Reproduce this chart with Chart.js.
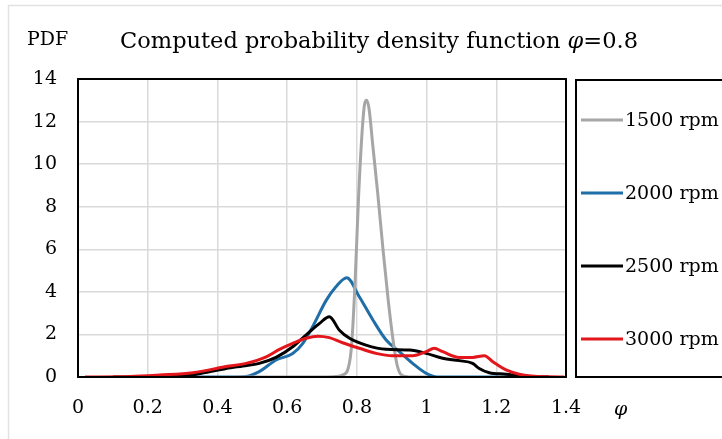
<!DOCTYPE html>
<html>
<head>
<meta charset="utf-8">
<script src="https://cdn.jsdelivr.net/npm/chart.js@4.4.0/dist/chart.umd.min.js"></script>
<style>
  html, body { margin: 0; padding: 0; background: #fff; }
  #wrap { width: 722px; height: 439px; }
</style>
</head>
<body>
<div id="wrap"><canvas id="pdfChart" width="722" height="439"></canvas></div>
<script>
// series names
const seriesNames = ["1500 rpm", "2000 rpm", "2500 rpm", "3000 rpm"];
const seriesColors = ["#a6a6a6", "#1f6ea8", "#000000", "#e3161b"];

// phi values (x) and PDF values (y)
const phi1500 = [0.45, 0.6, 0.7, 0.74, 0.76, 0.775, 0.785, 0.795, 0.805, 0.815, 0.822, 0.828, 0.835, 0.845, 0.86, 0.875, 0.89, 0.905, 0.915, 0.925, 0.94, 0.96, 1.0];
const pdf1500 = [0, 0, 0, 0.02, 0.1, 0.4, 1.5, 4.5, 8.5, 11.5, 12.8, 13.0, 12.6, 11.0, 8.6, 6.0, 3.6, 1.6, 0.6, 0.15, 0.03, 0, 0];

const phi2000 = [0.3, 0.45, 0.482, 0.52, 0.568, 0.616, 0.645, 0.673, 0.712, 0.74, 0.771, 0.807, 0.846, 0.884, 0.922, 0.96, 0.999, 1.03, 1.1, 1.3, 1.35];
const pdf2000 = [0, 0, 0.02, 0.25, 0.8, 1.1, 1.58, 2.36, 3.6, 4.24, 4.66, 3.77, 2.68, 1.74, 1.19, 0.64, 0.17, 0, 0, 0, 0];

const phi2500 = [0.1, 0.2, 0.28, 0.33, 0.377, 0.425, 0.473, 0.52, 0.568, 0.616, 0.654, 0.693, 0.721, 0.75, 0.779, 0.826, 0.884, 0.951, 0.999, 1.046, 1.094, 1.132, 1.151, 1.18, 1.228, 1.266, 1.3, 1.35];
const pdf2500 = [0, 0, 0.03, 0.1, 0.25, 0.4, 0.52, 0.64, 0.92, 1.42, 1.97, 2.52, 2.83, 2.2, 1.82, 1.5, 1.3, 1.27, 1.11, 0.88, 0.77, 0.64, 0.4, 0.2, 0.13, 0.05, 0, 0];

const phi3000 = [0.02, 0.15, 0.234, 0.33, 0.425, 0.482, 0.54, 0.578, 0.616, 0.654, 0.688, 0.721, 0.759, 0.807, 0.855, 0.903, 0.96, 0.999, 1.022, 1.046, 1.094, 1.132, 1.166, 1.19, 1.228, 1.266, 1.3, 1.35, 1.395];
const pdf3000 = [0, 0.02, 0.09, 0.2, 0.49, 0.64, 0.95, 1.3, 1.58, 1.82, 1.92, 1.85, 1.61, 1.35, 1.11, 1.0, 1.0, 1.19, 1.35, 1.19, 0.92, 0.92, 1.0, 0.72, 0.33, 0.13, 0.05, 0.01, 0];

const xTicks = [0, 0.2, 0.4, 0.6, 0.8, 1, 1.2, 1.4];

const serif = "'DejaVu Serif', 'Liberation Serif', serif";

function toPoints(xs, ys) {
    return xs.map((x, i) => ({ x: x, y: ys[i] }));
}

const allX = [phi1500, phi2000, phi2500, phi3000];
const allY = [pdf1500, pdf2000, pdf2500, pdf3000];
const drawOrder = [3, 4, 2, 1]; // red on top

// Title, axis labels, frame and legend box drawn on the canvas
const decorations = {
    id: "decorations",
    afterDraw(chart) {
        const ctx = chart.ctx;
        const a = chart.chartArea;
        ctx.save();

        // faint outer frame
        ctx.strokeStyle = "#e2e2e2";
        ctx.lineWidth = 1.5;
        ctx.strokeRect(8.5, 5.5, 760, 480);

        // plot frame
        ctx.strokeStyle = "#000";
        ctx.lineWidth = 2;
        ctx.strokeRect(a.left, a.top, a.right - a.left, a.bottom - a.top);

        // title
        ctx.fillStyle = "#000";
        ctx.textBaseline = "middle";
        ctx.textAlign = "left";
        const tf = "22.5px " + serif;
        const tfi = "italic 22.5px " + serif;
        ctx.font = tf;
        const t1 = "Computed probability density function ";
        const t2 = "\u03C6";
        const t3 = "=0.8";
        const w1 = ctx.measureText(t1).width;
        ctx.font = tfi;
        const w2 = ctx.measureText(t2).width;
        ctx.font = tf;
        const w3 = ctx.measureText(t3).width;
        let tx = 379 - (w1 + w2 + w3) / 2;
        ctx.fillText(t1, tx, 42);
        ctx.font = tfi;
        ctx.fillText(t2, tx + w1, 42);
        ctx.font = tf;
        ctx.fillText(t3, tx + w1 + w2, 42);

        // axis titles
        ctx.font = "19px " + serif;
        ctx.fillText("PDF", 27, 40);
        ctx.font = "italic 19px " + serif;
        ctx.fillText("\u03C6", 614, 410);

        // legend box
        const lx = 576, ly = a.top + 1, lb = a.bottom;
        ctx.strokeStyle = "#000";
        ctx.lineWidth = 2;
        ctx.strokeRect(lx, ly, 180, lb - ly);
        const rowY = [120, 193, 266, 339];
        chart.data.datasets.forEach((ds, i) => {
            ctx.strokeStyle = ds.borderColor;
            ctx.lineWidth = 3;
            ctx.beginPath();
            ctx.moveTo(581, rowY[i]);
            ctx.lineTo(623, rowY[i]);
            ctx.stroke();
            ctx.fillStyle = "#000";
            ctx.font = "19px " + serif;
            ctx.fillText(ds.label, 625, rowY[i] + 1);
        });
        ctx.restore();
    }
};

new Chart("pdfChart", {
    type: "line",
    data: {
        datasets: seriesNames.map((name, i) => ({
            label: name,
            data: toPoints(allX[i], allY[i]),
            borderColor: seriesColors[i],
            backgroundColor: seriesColors[i],
            borderWidth: 3,
            pointRadius: 0,
            fill: false,
            cubicInterpolationMode: "monotone",
            order: drawOrder[i]
        }))
    },
    options: {
        responsive: false,
        animation: false,
        layout: {
            padding: { top: 79, right: 156, left: 0, bottom: 0 }
        },
        plugins: {
            legend: { display: false },
            title: { display: false },
            tooltip: { enabled: false }
        },
        scales: {
            x: {
                type: "linear",
                min: 0,
                max: 1.4,
                afterBuildTicks: (s) => { s.ticks = xTicks.map(v => ({ value: v })); },
                afterFit: (s) => { s.height = 62; },
                grid: { color: "#d9d9d9", lineWidth: 1.5, drawTicks: false },
                border: { display: false },
                ticks: {
                    color: "#000",
                    padding: 20,
                    maxRotation: 0,
                    font: { family: serif, size: 19 },
                    callback: (v) => String(+v.toFixed(1))
                }
            },
            y: {
                min: 0,
                max: 14,
                afterFit: (s) => { s.width = 78; },
                grid: { color: "#d9d9d9", lineWidth: 1.5, drawTicks: false },
                border: { display: false },
                ticks: {
                    stepSize: 2,
                    color: "#000",
                    padding: 21,
                    font: { family: serif, size: 19 }
                }
            }
        }
    },
    plugins: [decorations]
});
</script>
</body>
</html>
